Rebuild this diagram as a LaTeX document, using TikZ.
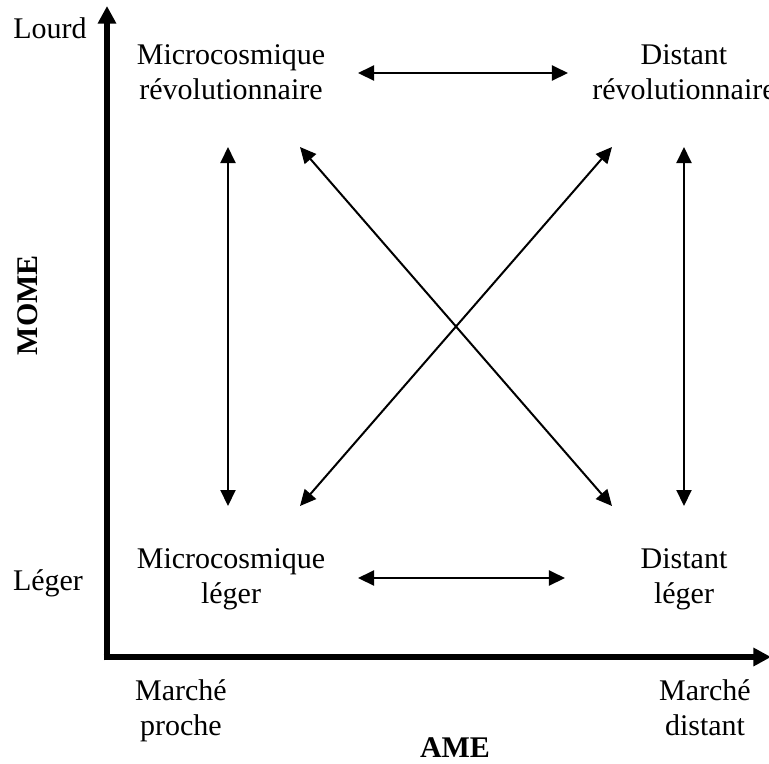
\documentclass[tikz,border=0pt]{standalone}
\usepackage{fontspec}
\setmainfont{Liberation Serif}
\usetikzlibrary{arrows.meta, positioning}

\tikzset{
    quad/.style={align=center, font=\fontsize{12}{14}\selectfont, inner sep=0pt},
    axislabel/.style={font=\fontsize{12}{14}\selectfont, inner sep=0pt},
    axistitle/.style={font=\fontsize{12}{14}\selectfont\bfseries, inner sep=0pt},
    axisline/.style={line width=2.6pt, -{Triangle[length=7pt, width=7pt]}},
    link/.style={line width=0.8pt, {Triangle[length=6.4pt, width=6pt]}-{Triangle[length=6.4pt, width=6pt]}}
}

\begin{document}
\begin{tikzpicture}[x=0.4pt, y=-0.4pt]
    \useasboundingbox (0,0) rectangle (769,763);

    % --- Axes ---
    \coordinate (origin) at (107,657);
    \coordinate (ytip) at (107,6);
    \coordinate (xtip) at (771,657);
    \draw[axisline] ([yshift=-1.3pt]origin) -- (ytip);
    \draw[axisline] ([xshift=-1.3pt]origin) -- (xtip);

    \node[axislabel] (lourd) at (50,28) {Lourd};
    \node[axislabel] (leger) at (48,583) {Léger};
    \node[axistitle, rotate=90] (mome) at (28,305) {MOME};

    \node[quad] (proche) at (181,711) {Marché\\proche};
    \node[quad] (distant) at (705,708) {Marché\\distant};
    \node[axistitle] (ame) at (455,748) {AME};

    % --- Quadrants ---
    \node[quad] (microrev) at (231,72) {Microcosmique\\révolutionnaire};
    \node[quad] (distrev) at (684,72) {Distant\\révolutionnaire};
    \node[quad] (microleg) at (231,579) {Microcosmique\\léger};
    \node[quad] (distleg) at (684,579) {Distant\\léger};

    % --- Arrow ends ---
    \coordinate (tl-e) at (358,73);
    \coordinate (tr-w) at (568,73);
    \coordinate (bl-e) at (358,578);
    \coordinate (br-w) at (565,578);
    \coordinate (lv-n) at (228,147);
    \coordinate (lv-s) at (228,506);
    \coordinate (rv-n) at (684,147);
    \coordinate (rv-s) at (684,506);
    \coordinate (d1-n) at (300,147);
    \coordinate (d1-s) at (612,506);
    \coordinate (d2-n) at (612,147);
    \coordinate (d2-s) at (300,506);

    \draw[link] (tl-e) -- (tr-w);
    \draw[link] (bl-e) -- (br-w);
    \draw[link] (lv-n) -- (lv-s);
    \draw[link] (rv-n) -- (rv-s);
    \draw[link] (d1-n) -- (d1-s);
    \draw[link] (d2-n) -- (d2-s);
\end{tikzpicture}
\end{document}
